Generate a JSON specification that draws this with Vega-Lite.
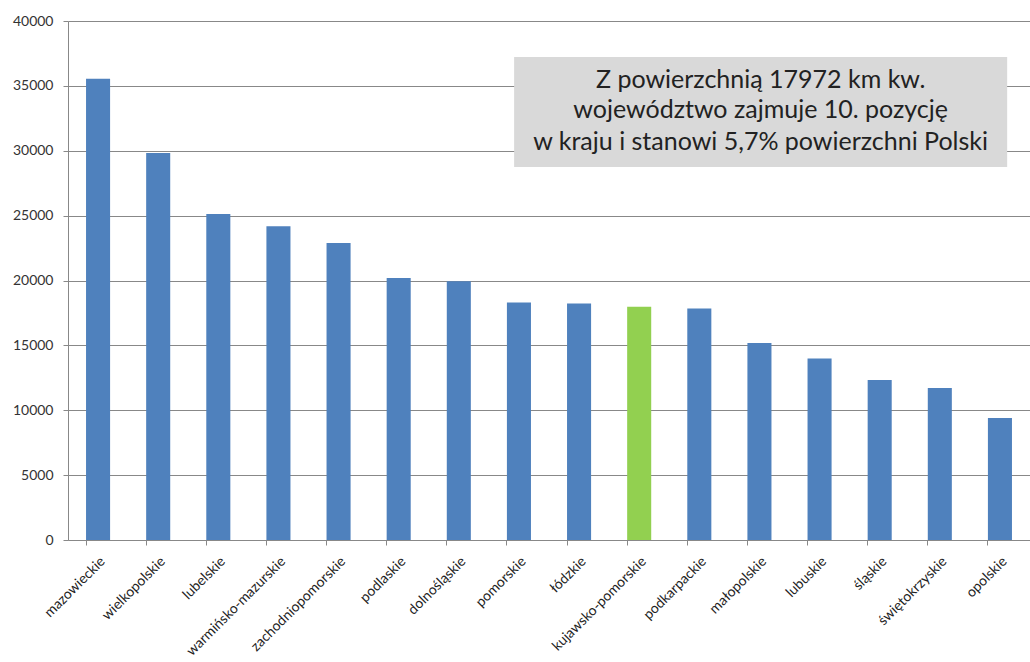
{
  "$schema": "https://vega.github.io/schema/vega-lite/v6.json",
  "width": 962,
  "height": 519,
  "autosize": "none",
  "padding": {"left": 68, "top": 21, "right": 0, "bottom": 122},
  "background": "white",
  "config": {"view": {"stroke": null}, "font": "Lato"},
  "datasets": {
    "bars": [
      {"woj": "mazowieckie", "area": 35558, "hl": "n"},
      {"woj": "wielkopolskie", "area": 29826, "hl": "n"},
      {"woj": "lubelskie", "area": 25122, "hl": "n"},
      {"woj": "warmińsko-mazurskie", "area": 24173, "hl": "n"},
      {"woj": "zachodniopomorskie", "area": 22892, "hl": "n"},
      {"woj": "podlaskie", "area": 20187, "hl": "n"},
      {"woj": "dolnośląskie", "area": 19947, "hl": "n"},
      {"woj": "pomorskie", "area": 18310, "hl": "n"},
      {"woj": "łódzkie", "area": 18219, "hl": "n"},
      {"woj": "kujawsko-pomorskie", "area": 17972, "hl": "y"},
      {"woj": "podkarpackie", "area": 17846, "hl": "n"},
      {"woj": "małopolskie", "area": 15183, "hl": "n"},
      {"woj": "lubuskie", "area": 13988, "hl": "n"},
      {"woj": "śląskie", "area": 12333, "hl": "n"},
      {"woj": "świętokrzyskie", "area": 11711, "hl": "n"},
      {"woj": "opolskie", "area": 9412, "hl": "n"}
    ],
    "box": [{"x0": 7.42, "x1": 15.62, "y0": 28750, "y1": 37230}],
    "lines": [
      {"x": 11.52, "y": 35480, "t": "Z powierzchnią 17972 km kw."},
      {"x": 11.52, "y": 33130, "t": "województwo zajmuje 10. pozycję"},
      {"x": 11.52, "y": 30700, "t": "w kraju i stanowi 5,7% powierzchni Polski"}
    ]
  },
  "layer": [
    {
      "data": {"name": "bars"},
      "mark": {"type": "bar"},
      "encoding": {
        "x": {
          "field": "woj", "type": "nominal", "sort": null,
          "scale": {"paddingInner": 0.6, "paddingOuter": 0.3},
          "axis": {
            "title": null, "labelAngle": -45, "labelFontSize": 14, "labelColor": "#222",
            "bandPosition": 0, "tickColor": "#888", "domainColor": "#888", "tickSize": 5,
            "labelPadding": 9, "labelFont": "Lato"
          }
        },
        "y": {
          "field": "area", "type": "quantitative",
          "scale": {"domain": [0, 40000], "nice": false},
          "axis": {
            "title": null, "values": [0,5000,10000,15000,20000,25000,30000,35000,40000],
            "format": "d", "labelFontSize": 14, "labelColor": "#333", "gridColor": "#888",
            "gridOpacity": 1, "domainColor": "#888", "tickColor": "#888", "tickSize": 5,
            "labelPadding": 10
          }
        },
        "color": {
          "field": "hl", "type": "nominal",
          "scale": {"domain": ["n", "y"], "range": ["#4f81bd", "#92d050"]},
          "legend": null
        }
      }
    },
    {
      "data": {"name": "box"},
      "mark": {"type": "rect", "color": "#d9d9d9"},
      "encoding": {
        "x": {"field": "x0", "type": "quantitative", "scale": {"domain": [0, 16], "nice": false}, "axis": null},
        "x2": {"field": "x1"},
        "y": {"field": "y0", "type": "quantitative"},
        "y2": {"field": "y1"}
      }
    },
    {
      "data": {"name": "lines"},
      "mark": {"type": "text", "fontSize": 25, "color": "#222", "align": "center", "baseline": "middle", "font": "Lato"},
      "encoding": {
        "x": {"field": "x", "type": "quantitative", "scale": {"domain": [0, 16], "nice": false}, "axis": null},
        "y": {"field": "y", "type": "quantitative"},
        "text": {"field": "t"}
      }
    }
  ],
  "resolve": {"scale": {"x": "independent"}}
}
